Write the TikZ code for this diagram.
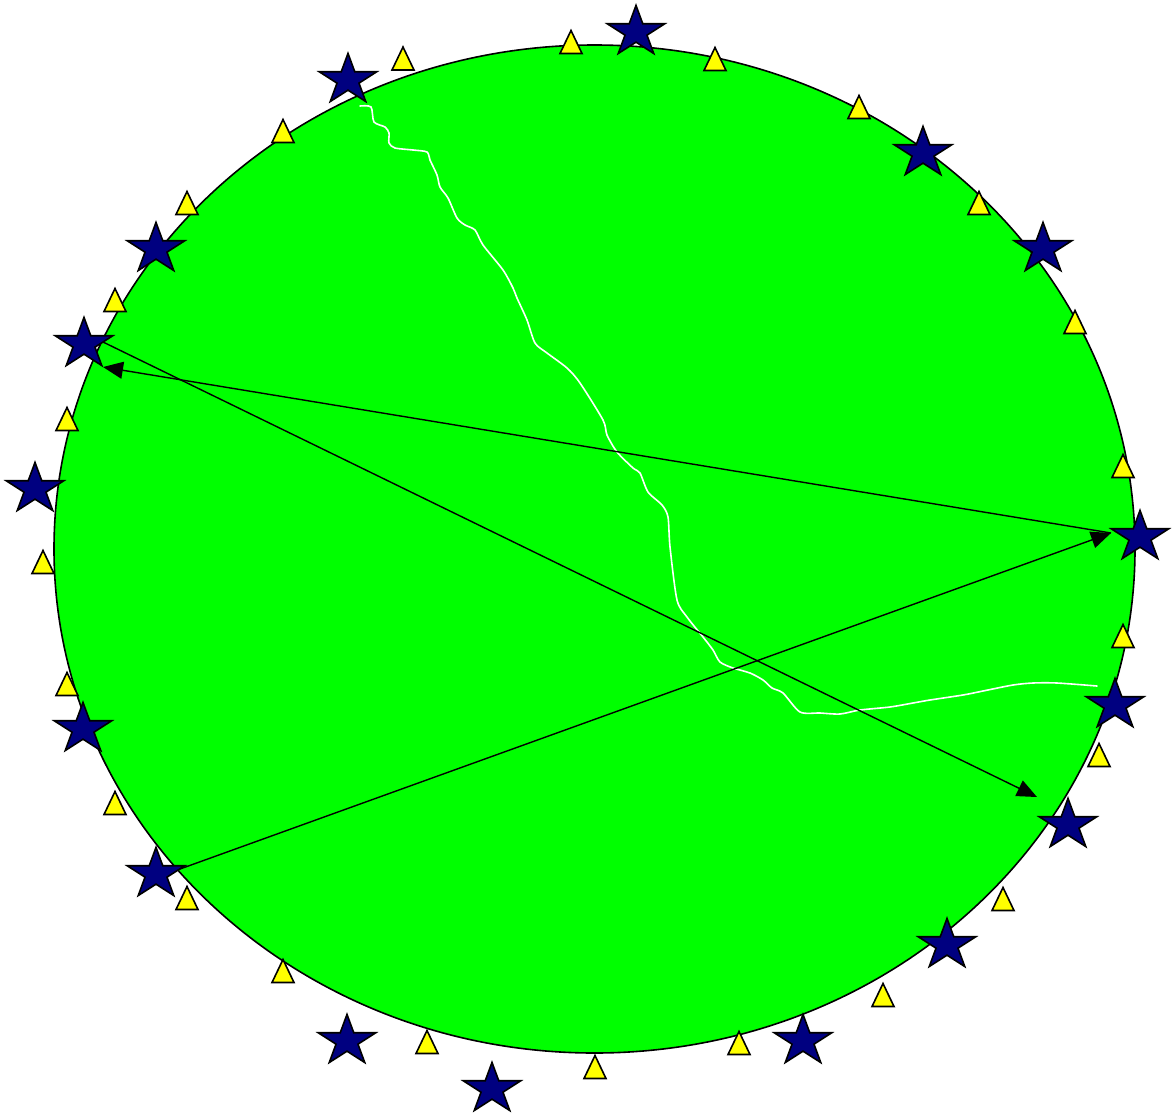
\documentclass[tikz,border=0pt]{standalone}
\usetikzlibrary{arrows.meta,calc}
\definecolor{gr}{HTML}{00FF00}
\definecolor{nv}{HTML}{000080}
\definecolor{yl}{HTML}{FFFF00}
\tikzset{
  starsty/.style={fill=nv, draw=black, line width=1.6pt},
  tristy/.style={fill=yl, draw=black, line width=1.6pt},
  arr/.style={draw=black, line width=1.4pt, -{Triangle[length=20pt,width=17pt]}},
  wpath/.style={draw=white, line width=1.6pt, line cap=round, line join=round},
  blob/.style={fill=gr, draw=black, line width=1.6pt}
}
\newcommand\starnode[2]{%
  \coordinate (#1) at (#2);
  \begin{scope}[shift={(#1)}, x=30.2pt, y=26.6pt]
    \filldraw[starsty] (90:1) -- (126:0.382) -- (162:1) -- (198:0.382) -- (234:1)
      -- (270:0.382) -- (306:1) -- (342:0.382) -- (18:1) -- (54:0.382) -- cycle;
  \end{scope}}
\newcommand\trinode[2]{%
  \coordinate (#1) at (#2);
  \filldraw[tristy] ($(#1)+(0,-11.5)$) -- ($(#1)+(11,11.5)$) -- ($(#1)+(-11,11.5)$) -- cycle;}
\begin{document}
\begin{tikzpicture}[x=1pt, y=-1pt]
\useasboundingbox (0,0) rectangle (1172,1114);
% main ellipse
\draw[blob] (594.5,549) ellipse [x radius=540.5pt, y radius=504pt];
% star positions
\coordinate (s1) at (348,80);
\coordinate (s6) at (84,344);
\coordinate (s8) at (1140,537);
\coordinate (s9) at (1115,705);
\coordinate (s11) at (1068,825);
\coordinate (s12) at (156,874);
% white path
\draw[wpath] plot[smooth, tension=0.45] coordinates {
 ($(s1)+(12,26)$) (371,107) (374,122) (385,127) (389,133) (389,143) (395,148) (413,150)
 (427,152) (430,160) (437,175) (440,187) (448,198) (457,218) (465,225) (475,230)
 (483,245) (503,270) (513,288) (517,298) (527,320) (535,343) (547,353) (567,368)
 (580,383) (603,420) (607,435) (617,452) (633,468) (640,473) (648,492) (662,505)
 (668,517) (670,547) (677,600) (687,617) (703,637) (713,650) (720,662) (733,668)
 (750,673) (763,680) (772,688) (783,693) (800,712) (820,713) (840,714) (860,710)
 (890,707) (913,703) (930,700) (963,695) (983,691) (1013,685) (1033,683) (1057,683)
 ($(s9)+(-18,-19)$)};
% arrows
\draw[arr] ($(s6)+(19,-2)$) -- ($(s11)+(-31,-28)$);
\draw[arr] ($(s8)+(-29,-4)$) -- ($(s6)+(19,23)$);
\draw[arr] ($(s12)+(24,-5)$) -- ($(s8)+(-29,-4)$);
% triangles
\trinode{t1}{403,58.5}
\trinode{t2}{571,42}
\trinode{t3}{715,59}
\trinode{t4}{859,107}
\trinode{t5}{283,131}
\trinode{t6}{979,203}
\trinode{t7}{187,203}
\trinode{t8}{115,300}
\trinode{t9}{1075,322}
\trinode{t10}{67,419}
\trinode{t11}{1123,466}
\trinode{t12}{43,562}
\trinode{t13}{1123,636}
\trinode{t14}{67,684}
\trinode{t15}{1099,755}
\trinode{t16}{115,803}
\trinode{t17}{187,898}
\trinode{t18}{1003,899}
\trinode{t19}{283,971}
\trinode{t20}{883,995}
\trinode{t21}{427,1042}
\trinode{t22}{739,1043}
\trinode{t23}{595,1067}
% stars
\starnode{s1}{348,80}
\starnode{s2}{636,32}
\starnode{s3}{923,153}
\starnode{s4}{1043,249}
\starnode{s5}{156,249}
\starnode{s6}{84,344}
\starnode{s7}{35,489}
\starnode{s8}{1140,537}
\starnode{s9}{1115,705}
\starnode{s10}{83,729}
\starnode{s11}{1068,825}
\starnode{s12}{156,874}
\starnode{s13}{947,945}
\starnode{s14}{347,1041}
\starnode{s15}{803,1041}
\starnode{s16}{492,1089}
\end{tikzpicture}
\end{document}
